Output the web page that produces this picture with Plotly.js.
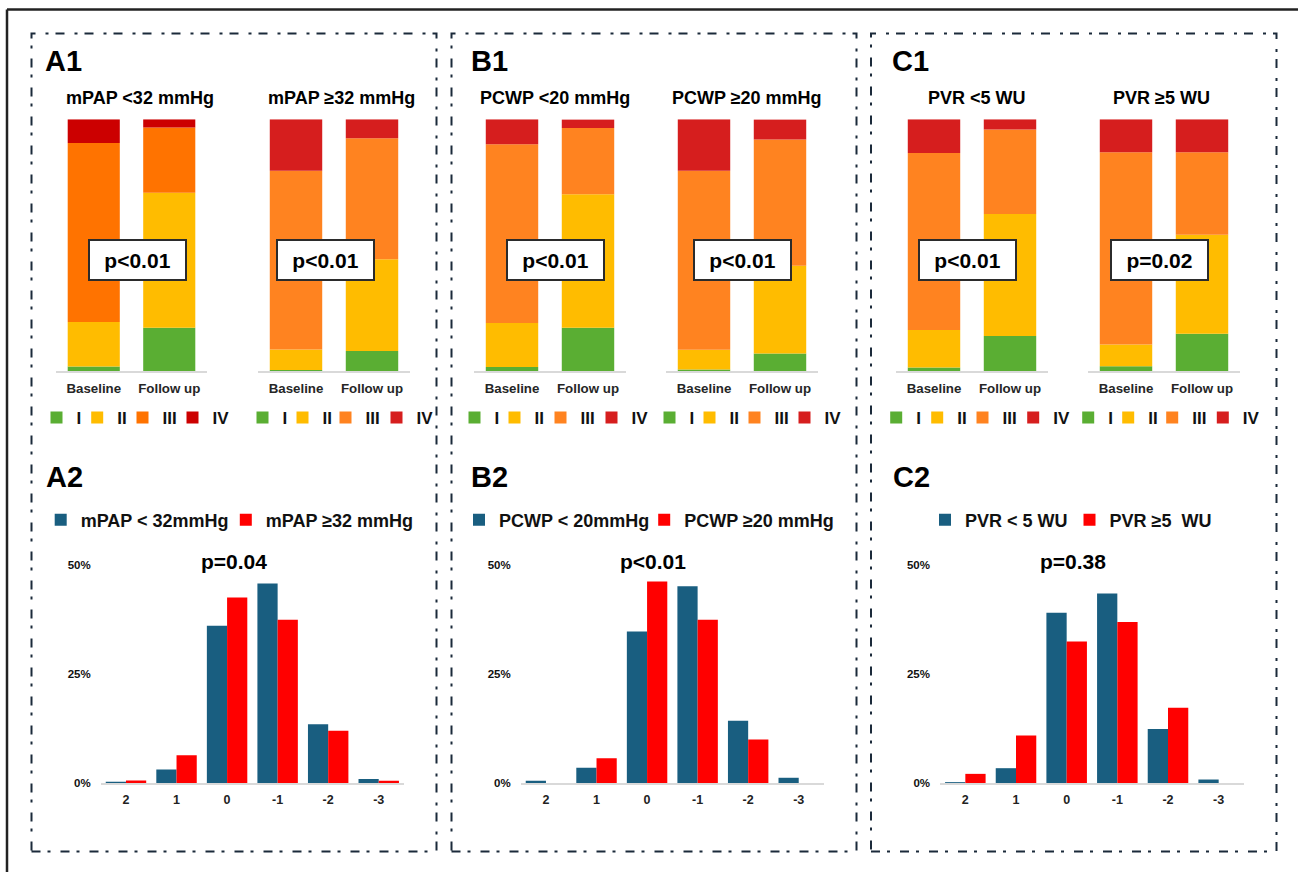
<!DOCTYPE html>
<html><head><meta charset="utf-8">
<script src="https://cdn.plot.ly/plotly-3.0.1.min.js"></script>
<style>html,body{margin:0;padding:0;background:#fff;}#chart{width:1298px;height:872px;}</style>
</head><body><div id="chart"></div>
<script>
const W = 1298, H = 872;

// ---- DATA ----
const stages = ['Baseline', 'Follow up'];
const classes = ['I', 'II', 'III', 'IV'];
// NYHA class share (%) in order I, II, III, IV
const mpapLowBaseline  = [1.9, 17.7, 71.0, 9.4];
const mpapLowFollowup  = [17.3, 53.6, 25.8, 3.3];
const mpapHighBaseline = [0.5, 8.2, 70.9, 20.4];
const mpapHighFollowup = [8.1, 36.4, 48.0, 7.5];
const pcwpLowBaseline  = [1.7, 17.5, 70.9, 9.9];
const pcwpLowFollowup  = [17.3, 53.0, 26.2, 3.4];
const pcwpHighBaseline = [0.7, 7.9, 71.0, 20.4];
const pcwpHighFollowup = [7.1, 34.8, 50.1, 7.9];
const pvrLowBaseline   = [1.5, 14.9, 70.2, 13.4];
const pvrLowFollowup   = [14.0, 48.4, 33.6, 4.0];
const pvrHighBaseline  = [2.0, 8.6, 76.3, 13.1];
const pvrHighFollowup  = [14.9, 39.3, 32.7, 13.1];

const stackTitles = ['mPAP &lt;32 mmHg', 'mPAP ≥32 mmHg', 'PCWP &lt;20 mmHg', 'PCWP ≥20 mmHg', 'PVR &lt;5 WU', 'PVR ≥5 WU'];
const stackPValues = ['p&lt;0.01', 'p&lt;0.01', 'p&lt;0.01', 'p&lt;0.01', 'p&lt;0.01', 'p=0.02'];

// Change in NYHA class (% of patients)
const changeCats = ['2', '1', '0', '-1', '-2', '-3'];
const mpapLowChange  = [0.3, 3.1, 36.1, 45.8, 13.5, 0.9];
const mpapHighChange = [0.6, 6.4, 42.6, 37.5, 12.0, 0.5];
const pcwpLowChange  = [0.5, 3.5, 34.8, 45.2, 14.3, 1.2];
const pcwpHighChange = [0, 5.7, 46.3, 37.5, 10.0, 0];
const pvrLowChange   = [0.2, 3.4, 39.1, 43.5, 12.4, 0.8];
const pvrHighChange  = [2.1, 10.9, 32.5, 37.0, 17.3, 0];
const changeNames = [['mPAP &lt; 32mmHg', 'mPAP ≥32 mmHg'], ['PCWP &lt; 20mmHg', 'PCWP ≥20 mmHg'], ['PVR &lt; 5 WU', 'PVR ≥5  WU']];
const changePValues = ['p=0.04', 'p&lt;0.01', 'p=0.38'];
const pctTickVals = [0, 25, 50];
const pctTickText = ['0%', '25%', '50%'];
const panelLabels = ['A1', 'B1', 'C1', 'A2', 'B2', 'C2'];

// ---- STYLE / LAYOUT HELPERS ----
const FONT = 'Liberation Sans, Arial, Helvetica, sans-serif';
const px = v => v / W;
const py = v => 1 - v / H;
const colorsA = ['#5AAE33', '#FFBC00', '#FF7300', '#CC0000'];
const colorsB = ['#5AAE33', '#FFBC00', '#FF8320', '#D61E1E'];
const stackColors = [colorsA, colorsB, colorsB, colorsB, colorsB, colorsB];
const blue = '#195E80', red = '#FF0000';

const stackSets = [
  [mpapLowBaseline, mpapLowFollowup], [mpapHighBaseline, mpapHighFollowup],
  [pcwpLowBaseline, pcwpLowFollowup], [pcwpHighBaseline, pcwpHighFollowup],
  [pvrLowBaseline, pvrLowFollowup], [pvrHighBaseline, pvrHighFollowup]
];
const changeSets = [[mpapLowChange, mpapHighChange], [pcwpLowChange, pcwpHighChange], [pvrLowChange, pvrHighChange]];

const topX = [[56, 207], [258, 410], [474, 626], [666, 818], [896, 1048], [1088, 1240]];
const topY = [119.3, 371.3];
const titleX = [140, 341.7, 555, 746.7, 976.7, 1161.7];
const pBoxX = [137.2, 325.2, 555.2, 742.7, 967.5, 1159.5];
// left edge of each legend swatch in the reference
const topSwatchX = [[56, 96.7, 142, 192], [262, 302, 345, 396], [474, 514, 560, 611],
                    [669, 709, 754, 804], [895.7, 936.7, 982, 1032.7], [1087.7, 1127.7, 1171.7, 1222.3]];
const botSwatchX = [[66.7, 245.3], [485, 663.7], [951, 1089]];
const botLegendShift = [26, 19.5];
const botX = [[100.7, 404], [520.7, 824], [940, 1244]];
const botY = [543.5, 783];
const botPX = [234, 652.7, 1073.3];
const labelPos = [[43, 61], [469, 61], [890, 61], [44, 477], [469, 477], [891, 477]];

const traces = [];
const layout = {
  width: W, height: H, margin: {l: 0, r: 0, t: 0, b: 0},
  paper_bgcolor: '#fff', plot_bgcolor: 'rgba(0,0,0,0)',
  barmode: 'group', bargap: 0.2, bargroupgap: 0,
  font: {family: FONT, color: '#000'},
  showlegend: true,
  annotations: [], shapes: []
};

function axName(i) { return i === 0 ? '' : String(i + 1); }
let legendCount = 0;
function newLegend(leftPix, yPix, size) {
  legendCount += 1;
  const key = 'legend' + (legendCount === 1 ? '' : String(legendCount));
  layout[key] = {
    orientation: 'h', x: px(leftPix), xanchor: 'left', y: py(yPix), yanchor: 'middle',
    font: {family: FONT, size: size, weight: 'bold', color: '#111'},
    bgcolor: 'rgba(0,0,0,0)', borderwidth: 0, itemclick: false, itemdoubleclick: false
  };
  return key;
}

// stacked bar subplots
stackSets.forEach((set, s) => {
  const a = axName(s);
  layout['xaxis' + a] = {
    domain: [px(topX[s][0]), px(topX[s][1])], anchor: 'y' + a, type: 'category',
    range: [-0.5, 1.5], showline: true, linecolor: '#D9D9D9', linewidth: 1.5,
    showgrid: false, zeroline: false, ticks: '', fixedrange: true,
    tickfont: {family: FONT, size: 13.3, weight: 'bold', color: '#262626'}, ticklabelstandoff: 4
  };
  layout['yaxis' + a] = {
    domain: [py(topY[1]), py(topY[0])], anchor: 'x' + a, range: [0, 100],
    visible: false, showgrid: false, zeroline: false, fixedrange: true
  };
  const cumB = [0, 0];
  classes.forEach((cls, k) => {
    const y = [set[0][k], set[1][k]];
    traces.push({
      type: 'bar', x: stages, y: y, base: cumB.slice(), width: 0.69, offsetgroup: 'st',
      name: cls, marker: {color: stackColors[s][k], line: {width: 0}},
      xaxis: 'x' + a, yaxis: 'y' + a, legend: newLegend(topSwatchX[s][k] - 19.5, 418, 17),
      hoverinfo: 'x+y+name'
    });
    cumB[0] += y[0]; cumB[1] += y[1];
  });
  layout.annotations.push({
    text: stackTitles[s], xref: 'paper', yref: 'paper', x: px(titleX[s]), y: py(98),
    xanchor: 'center', yanchor: 'middle', showarrow: false,
    font: {family: FONT, size: 18, weight: 'bold', color: '#000'}
  });
  layout.annotations.push({
    text: stackPValues[s], xref: 'paper', yref: 'paper', x: px(pBoxX[s]), y: py(259.7),
    xanchor: 'center', yanchor: 'middle', showarrow: false, width: 95, height: 38,
    bgcolor: '#fff', bordercolor: '#2b2b2b', borderwidth: 2, borderpad: 0,
    font: {family: FONT, size: 21, weight: 'bold', color: '#000'}
  });
});

// grouped change histograms
changeSets.forEach((set, c) => {
  const i = 6 + c;
  const a = axName(i);
  layout['xaxis' + a] = {
    domain: [px(botX[c][0]), px(botX[c][1])], anchor: 'y' + a, type: 'category',
    showline: true, linecolor: '#D9D9D9', linewidth: 1.5, showgrid: false, zeroline: false,
    ticks: '', fixedrange: true, ticklabelstandoff: 4,
    tickfont: {family: FONT, size: 12.5, weight: 'bold', color: '#222'}
  };
  layout['yaxis' + a] = {
    domain: [py(botY[1]), py(botY[0])], anchor: 'x' + a, range: [0, 55],
    tickmode: 'array', tickvals: pctTickVals, ticktext: pctTickText,
    showline: false, showgrid: false, zeroline: false,
    ticks: '', fixedrange: true, ticklabelstandoff: 9,
    tickfont: {family: FONT, size: 11.5, weight: 'bold', color: '#111'}
  };
  [blue, red].forEach((col, k) => {
    traces.push({
      type: 'bar', x: changeCats, y: set[k], name: changeNames[c][k],
      marker: {color: col, line: {width: 0}}, xaxis: 'x' + a, yaxis: 'y' + a,
      legend: newLegend(botSwatchX[c][k] - botLegendShift[k], 520, 18), hoverinfo: 'x+y+name'
    });
  });
  layout.annotations.push({
    text: changePValues[c], xref: 'paper', yref: 'paper', x: px(botPX[c]), y: py(561.7),
    xanchor: 'center', yanchor: 'middle', showarrow: false,
    font: {family: FONT, size: 21, weight: 'bold', color: '#000'}
  });
});

// panel labels
panelLabels.forEach((t, j) => {
  layout.annotations.push({
    text: t, xref: 'paper', yref: 'paper', x: px(labelPos[j][0]), y: py(labelPos[j][1]),
    xanchor: 'left', yanchor: 'middle', showarrow: false,
    font: {family: FONT, size: 29, weight: 'bold', color: '#000'}
  });
});

// frames
const dash = '9px,7px,3px,10px';
[[31.5, 436.5], [451.5, 856.5], [871, 1276.5]].forEach(([x0, x1]) => {
  layout.shapes.push({type: 'rect', xref: 'paper', yref: 'paper', x0: px(x0), x1: px(x1), y0: py(851.5), y1: py(33.5),
    line: {color: '#1B2A3A', width: 2, dash: dash}, fillcolor: 'rgba(0,0,0,0)'});
});
layout.shapes.push({type: 'line', xref: 'paper', yref: 'paper', x0: px(7), x1: 1, y0: py(9.5), y1: py(9.5), line: {color: '#222', width: 2.5}});
layout.shapes.push({type: 'line', xref: 'paper', yref: 'paper', x0: px(7), x1: px(7), y0: py(9.5), y1: 0, line: {color: '#222', width: 2.5}});

Plotly.newPlot('chart', traces, layout, {displayModeBar: false, staticPlot: true});
</script>
</body></html>
